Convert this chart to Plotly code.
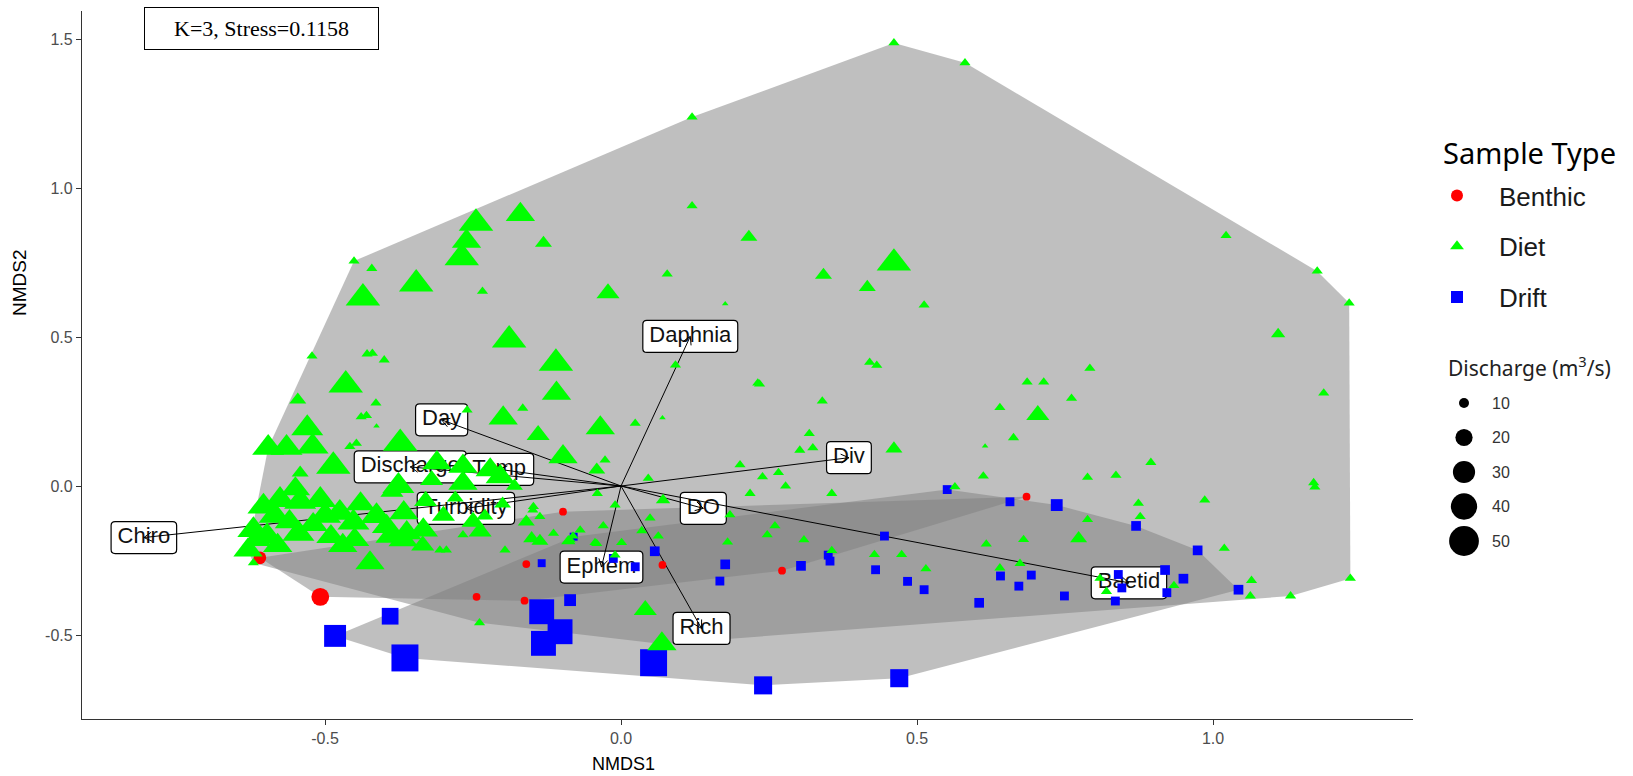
import math
import plotly.graph_objects as go

# ---------------- data ----------------
BENTHIC_X = [-0.610, -0.508, -0.098, -0.160, -0.244, -0.163, 0.070, 0.272, 0.685]
BENTHIC_Y = [-0.241, -0.372, -0.086, -0.262, -0.372, -0.385, -0.265, -0.284, -0.036]
BENTHIC_Q = [13, 21, 8, 8, 8, 8, 8, 8, 8]

DRIFT_X = [-0.483, -0.390, -0.365, -0.134, -0.103, -0.131, -0.086, 0.055, 0.240, 0.470,
           0.551, 0.657, 0.736, 0.870, 0.974, 1.043, 0.445, 0.430, 0.484, 0.512,
           0.605, 0.641, 0.672, 0.693, 0.749, 0.835, 0.840, 0.846, 0.919, 0.922,
           0.950, 0.353, 0.350, 0.304, 0.176, 0.167, 0.057, -0.013, 0.024, -0.134,
           -0.080]
DRIFT_Y = [-0.503, -0.437, -0.577, -0.422, -0.489, -0.528, -0.383, -0.593, -0.669, -0.645,
           -0.012, -0.053, -0.064, -0.134, -0.216, -0.348, -0.168, -0.281, -0.320, -0.348,
           -0.392, -0.302, -0.336, -0.299, -0.369, -0.386, -0.297, -0.342, -0.282, -0.358,
           -0.311, -0.252, -0.232, -0.268, -0.263, -0.319, -0.219, -0.243, -0.271, -0.259,
           -0.170]
DRIFT_Q = [36, 23, 52, 45, 45, 45, 14, 52, 26, 26,
           10, 10, 14, 11, 11, 11, 10, 10, 10, 10,
           11, 10, 10, 10, 10, 10, 10, 10, 11, 10,
           11, 10, 10, 11, 11, 10, 11, 10, 10, 9,
           9]

DIET_X = [0.461, 0.581, 0.120, -0.451, -0.421, -0.436, -0.346, -0.245, -0.261, -0.269,
          -0.170, -0.131, -0.234, -0.189, -0.110, -0.109, -0.022, 0.120, 0.216, 0.342,
          0.461, 0.416, 0.512, 0.078, 0.176, 0.231, 0.420, 0.432, 0.092, 1.022,
          1.176, 1.230, 1.110, 0.686, 0.714, 0.792, 1.187, 0.761, 0.704, 0.663,
          0.640, 0.615, 0.461, 0.895, 0.788, 0.836, 1.170, 1.172, 0.986, 0.874,
          0.877, 0.788, 1.019, 0.680, 0.773, 1.065, 1.063, 1.131, 1.232, 0.934,
          0.809, 0.820, 0.617, 0.474, 0.428, 0.515, 0.640, 0.674, 0.612, 0.564,
          0.356, 0.356, 0.309, 0.247, 0.260, 0.180, 0.184, 0.218, 0.278, 0.266,
          0.239, 0.201, 0.302, 0.324, 0.318, 0.340, 0.234, 0.070, 0.024, -0.035,
          -0.027, -0.041, 0.046, -0.040, -0.010, 0.071, 0.049, 0.035, 0.063, 0.001,
          -0.030, -0.044, -0.069, -0.081, -0.089, -0.010, 0.041, 0.069, -0.239, -0.424,
          -0.098, -0.140, -0.166, -0.199, -0.260, -0.465, -0.522, -0.429, -0.420, -0.400,
          -0.414, -0.439, -0.430, -0.413, -0.546, -0.530, -0.521, -0.596, -0.565, -0.542,
          -0.486, -0.458, -0.447, -0.373, -0.311, -0.267, -0.221, -0.204, -0.267, -0.376,
          -0.387, -0.576, -0.542, -0.508, -0.604, -0.621, -0.598, -0.630, -0.621, -0.475,
          -0.452, -0.413, -0.367, -0.362, -0.334, -0.238, -0.267, -0.396, -0.390, -0.368,
          -0.306, -0.295, -0.196, -0.151, -0.137, -0.114, -0.086, -0.148, -0.137, -0.041,
          -0.149, -0.560, -0.520, -0.490, -0.580, -0.545, -0.450, -0.330, -0.300, -0.280,
          -0.230, -0.200, -0.180, -0.160, -0.320, -0.585, -0.500, -0.440, -0.335, -0.615,
          -0.470, -0.250, -0.550]
DIET_Y = [1.487, 1.420, 1.238, 0.755, 0.730, 0.631, 0.678, 0.882, 0.821, 0.766,
          0.911, 0.815, 0.653, 0.490, 0.412, 0.311, 0.647, 0.940, 0.835, 0.708,
          0.748, 0.667, 0.607, 0.711, 0.611, 0.345, 0.415, 0.405, 0.406, 0.840,
          0.721, 0.614, 0.510, 0.349, 0.349, 0.395, 0.312, 0.294, 0.238, 0.162,
          0.263, 0.134, 0.125, 0.079, 0.029, 0.036, 0.011, -0.004, -0.047, -0.058,
          -0.103, -0.113, -0.209, -0.180, -0.176, -0.317, -0.369, -0.369, -0.310, -0.334,
          -0.310, -0.354, -0.195, -0.230, -0.230, -0.278, -0.275, -0.260, 0.033, -0.003,
          -0.025, -0.217, -0.181, -0.164, -0.134, -0.188, -0.097, -0.025, 0.000, 0.045,
          0.031, 0.071, 0.120, 0.128, 0.176, 0.285, 0.342, 0.229, 0.210, 0.195,
          0.087, 0.054, 0.026, -0.025, -0.064, -0.047, -0.108, -0.150, -0.168, -0.190,
          -0.134, -0.190, -0.148, -0.168, -0.185, -0.232, -0.416, -0.530, -0.459, -0.258,
          0.098, 0.171, 0.261, 0.228, 0.255, 0.339, 0.436, 0.443, 0.445, 0.423,
          0.278, 0.232, 0.236, 0.201, 0.289, 0.194, 0.132, 0.128, 0.128, 0.044,
          0.066, 0.132, 0.143, 0.143, 0.078, 0.066, 0.054, 0.031, 0.009, 0.000,
          -0.019, -0.047, -0.053, -0.047, -0.069, -0.148, -0.168, -0.215, -0.258, -0.090,
          -0.123, -0.101, -0.090, -0.157, -0.148, -0.153, -0.164, -0.136, -0.169, -0.181,
          -0.215, -0.215, -0.215, -0.176, -0.185, -0.159, -0.181, -0.069, -0.103, -0.193,
          -0.081, -0.120, -0.130, -0.170, -0.200, -0.160, -0.180, -0.050, -0.100, -0.040,
          -0.100, -0.060, 0.000, -0.120, 0.020, -0.100, -0.100, -0.060, -0.200, -0.180,
          -0.200, -0.120, -0.010]
DIET_Q = [8, 8, 8, 8, 8, 34, 34, 34, 26, 34,
          26, 12, 8, 34, 34, 26, 18, 8, 12, 12,
          34, 12, 8, 8, 6, 8, 8, 8, 8, 8,
          8, 8, 10, 8, 8, 8, 8, 8, 18, 8,
          8, 6, 12, 8, 8, 8, 8, 8, 8, 8,
          8, 8, 8, 8, 12, 8, 8, 8, 8, 8,
          8, 8, 8, 8, 8, 8, 8, 8, 8, 8,
          8, 8, 8, 8, 8, 8, 8, 8, 8, 8,
          8, 8, 8, 8, 8, 8, 8, 6, 8, 26,
          8, 12, 8, 8, 8, 10, 8, 8, 8, 8,
          8, 8, 8, 8, 10, 8, 18, 26, 8, 26,
          26, 18, 8, 26, 8, 34, 8, 8, 8, 8,
          8, 8, 8, 6, 12, 30, 30, 30, 30, 12,
          34, 8, 8, 34, 26, 26, 26, 26, 26, 30,
          18, 30, 30, 30, 30, 30, 30, 26, 8, 30,
          30, 30, 26, 26, 26, 18, 8, 26, 26, 26,
          8, 8, 8, 12, 12, 8, 8, 8, 8, 8,
          8, 26, 26, 26, 26, 30, 26, 18, 18, 12,
          12, 12, 12, 12, 18, 30, 30, 26, 18, 26,
          26, 18, 26]

VEC_NAMES = ["Daphnia", "Day", "Discharge", "Temp", "Div", "DO", "Turbidity",
             "Chiro", "Ephem", "Rich", "Baetid"]
VEC_X = [0.117, -0.303, -0.356, -0.206, 0.385, 0.139, -0.262, -0.806, -0.033, 0.136, 0.858]
VEC_Y = [0.502, 0.222, 0.064, 0.056, 0.095, -0.075, -0.075, -0.173, -0.272, -0.478, -0.325]

X_TICKS = [-0.5, 0.0, 0.5, 1.0]
X_TICK_TEXT = ["-0.5", "0.0", "0.5", "1.0"]
Y_TICKS = [-0.5, 0.0, 0.5, 1.0, 1.5]
Y_TICK_TEXT = ["-0.5", "0.0", "0.5", "1.0", "1.5"]
X_RANGE = [-0.9105, 1.3378]
Y_RANGE = [-0.7819, 1.594]

DISCHARGE_LEGEND = [10, 20, 30, 40, 50]
SAMPLE_TYPES = ["Benthic", "Diet", "Drift"]
STRESS_TEXT = "K=3, Stress=0.1158"

# ---------------- layout geometry ----------------
W, H = 1633, 776
M_L, M_R, M_T, M_B = 82, 5, 11, 57
PLOT_W = W - M_L - M_R
PLOT_H = H - M_T - M_B
MAIN_RIGHT_PX = 1413
X_DOM = [0, (MAIN_RIGHT_PX - M_L) / PLOT_W]
KX = (MAIN_RIGHT_PX - M_L) / (X_RANGE[1] - X_RANGE[0])   # px per data unit
KY = PLOT_H / (Y_RANGE[1] - Y_RANGE[0])

FONT = "Liberation Sans, Arial, sans-serif"
ALT_FONT = "Noto Sans, Open Sans, sans-serif"


def paper(px, py):
    return (px - M_L) / PLOT_W, (H - M_B - py) / PLOT_H


def size_px(q):
    return math.sqrt(max(100 + 19.7 * (q - 10), 16))


def hull(xs, ys):
    pts = sorted(set(zip(xs, ys)))

    def cross(o, a, b):
        return (a[0] - o[0]) * (b[1] - o[1]) - (a[1] - o[1]) * (b[0] - o[0])

    lower, upper = [], []
    for p in pts:
        while len(lower) >= 2 and cross(lower[-2], lower[-1], p) <= 0:
            lower.pop()
        lower.append(p)
    for p in reversed(pts):
        while len(upper) >= 2 and cross(upper[-2], upper[-1], p) <= 0:
            upper.pop()
        upper.append(p)
    return lower[:-1] + upper[:-1]


def hull_path(xs, ys):
    h = hull(xs, ys)
    return "M " + " L ".join(f"{x},{y}" for x, y in h) + " Z"


CHAR_W = {"a": .556, "b": .556, "c": .5, "d": .556, "e": .556, "g": .556, "h": .556,
          "i": .222, "m": .833, "n": .556, "o": .556, "p": .556, "r": .333, "s": .5,
          "t": .278, "u": .556, "v": .5, "y": .5, "B": .667, "C": .722, "D": .722,
          "E": .667, "O": .778, "R": .722, "T": .611}
LABEL_FS = 22


def rrect(cx, cy, wpx, hpx, rpx=4):
    hw, hh = wpx / 2 / KX, hpx / 2 / KY
    rx, ry = rpx / KX, rpx / KY
    x0, x1, y0, y1 = cx - hw, cx + hw, cy - hh, cy + hh
    return (f"M {x0+rx},{y0} L {x1-rx},{y0} Q {x1},{y0} {x1},{y0+ry} "
            f"L {x1},{y1-ry} Q {x1},{y1} {x1-rx},{y1} L {x0+rx},{y1} "
            f"Q {x0},{y1} {x0},{y1-ry} L {x0},{y0+ry} Q {x0},{y0} {x0+rx},{y0} Z")


fig = go.Figure()
shapes = []

# hulls
HULL_FILL = "rgba(127,127,127,0.5)"
for xs, ys in [(DIET_X, DIET_Y), (DRIFT_X, DRIFT_Y), (BENTHIC_X, BENTHIC_Y)]:
    shapes.append(dict(type="path", path=hull_path(xs, ys), xref="x", yref="y",
                       fillcolor=HULL_FILL, line=dict(width=0), layer="below"))

# label boxes
for name, vx, vy in zip(VEC_NAMES, VEC_X, VEC_Y):
    wpx = sum(CHAR_W.get(c, .556) for c in name) * LABEL_FS + 13
    shapes.append(dict(type="path", path=rrect(vx, vy, wpx, 32), xref="x", yref="y",
                       fillcolor="white", line=dict(color="black", width=1.2), layer="below"))

# label text
fig.add_trace(go.Scatter(x=VEC_X, y=VEC_Y, mode="text", text=VEC_NAMES,
                         textposition="middle center",
                         textfont=dict(family=FONT, size=LABEL_FS, color="#111"),
                         hoverinfo="skip", showlegend=False))

# arrows
ax, ay = [], []
HEAD, ANG = 9, math.radians(30)
for vx, vy in zip(VEC_X, VEC_Y):
    ax += [0, vx, None]
    ay += [0, vy, None]
    dx, dy = vx * KX, vy * KY
    L = math.hypot(dx, dy)
    bx, by = -dx / L, -dy / L
    for s in (1, -1):
        rx = bx * math.cos(s * ANG) - by * math.sin(s * ANG)
        ry = bx * math.sin(s * ANG) + by * math.cos(s * ANG)
        ax += [vx, vx + rx * HEAD / KX, None]
        ay += [vy, vy + ry * HEAD / KY, None]
fig.add_trace(go.Scatter(x=ax, y=ay, mode="lines", line=dict(color="black", width=1),
                         hoverinfo="skip", showlegend=False))

# points
fig.add_trace(go.Scatter(x=DRIFT_X, y=DRIFT_Y, mode="markers", name="Drift",
                         legendgroup="c", legendrank=3,
                         marker=dict(symbol="square", color="#0000FF", opacity=1,
                                     size=[0.886 * size_px(q) for q in DRIFT_Q], line=dict(width=0))))
fig.add_trace(go.Scatter(x=BENTHIC_X, y=BENTHIC_Y, mode="markers", name="Benthic",
                         legendgroup="a", legendrank=1,
                         marker=dict(symbol="circle", color="#FF0000", opacity=1,
                                     size=[size_px(q) for q in BENTHIC_Q], line=dict(width=0))))
fig.add_trace(go.Scatter(x=DIET_X, y=DIET_Y, mode="markers", name="Diet",
                         legendgroup="b", legendrank=2,
                         marker=dict(symbol="triangle-up", color="#00FF00", opacity=1,
                                     size=[1.25 * size_px(q) for q in DIET_Q], line=dict(width=0))))

# discharge size legend on auxiliary axes (figure-pixel units)
LEG_X0 = 1440
leg_y = [403 + i * 34.5 for i in range(len(DISCHARGE_LEGEND))]
fig.add_trace(go.Scatter(x=[1464] * len(DISCHARGE_LEGEND), y=leg_y, mode="markers",
                         xaxis="x2", yaxis="y2", showlegend=False, hoverinfo="skip",
                         marker=dict(color="black", opacity=1, line=dict(width=0),
                                     size=[size_px(q) for q in DISCHARGE_LEGEND])))

annotations = []
for q, yy in zip(DISCHARGE_LEGEND, leg_y):
    px_, py_ = paper(1490, yy)
    annotations.append(dict(x=px_, y=py_, xref="paper", yref="paper", text=str(q),
                            showarrow=False, xanchor="left", yanchor="middle",
                            font=dict(family=FONT, size=16, color="#333")))
sx, sy = paper(261.5, 28.5)
annotations.append(dict(x=sx, y=sy, xref="paper", yref="paper", text=STRESS_TEXT,
                        xanchor="center", yanchor="middle",
                        showarrow=False, font=dict(family="Liberation Serif, Times New Roman, serif",
                                                   size=22, color="black"),
                        bordercolor="black", borderwidth=1, borderpad=0, bgcolor="white",
                        width=233, height=41))
tx, ty = paper(623, 764)
annotations.append(dict(x=tx, y=ty, xref="paper", yref="paper", text="NMDS1", showarrow=False,
                        xanchor="center", yanchor="middle",
                        font=dict(family=FONT, size=18, color="black")))
tx, ty = paper(19, 283)
annotations.append(dict(x=tx, y=ty, xref="paper", yref="paper", text="NMDS2", showarrow=False,
                        xanchor="center", yanchor="middle",
                        textangle=-90, font=dict(family=FONT, size=19, color="black")))
tx, ty = paper(1441, 152)
annotations.append(dict(x=tx, y=ty, xref="paper", yref="paper", text="Sample Type",
                        showarrow=False, xanchor="left", yanchor="middle",
                        font=dict(family=ALT_FONT, size=29, color="black")))
tx, ty = paper(1446, 367)
annotations.append(dict(x=tx, y=ty, xref="paper", yref="paper", text="Discharge (m<sup>3</sup>/s)",
                        showarrow=False, xanchor="left", yanchor="middle",
                        font=dict(family=ALT_FONT, size=21, color="#222")))

lx, ly = paper(1415, 172)
axis_common = dict(showline=True, linecolor="#333", linewidth=1.3, ticks="outside", ticklen=5,
                   tickcolor="#333", tickwidth=1.2, showgrid=False, zeroline=False,
                   automargin=False,
                   tickfont=dict(family=FONT, size=16, color="#4d4d4d"))
fig.update_layout(
    width=W, height=H, margin=dict(l=M_L, r=M_R, t=M_T, b=M_B, autoexpand=False),
    paper_bgcolor="white", plot_bgcolor="white",
    xaxis=dict(domain=X_DOM, range=X_RANGE, tickvals=X_TICKS, ticktext=X_TICK_TEXT, **axis_common),
    yaxis=dict(domain=[0, 1], range=Y_RANGE, tickvals=Y_TICKS, ticktext=Y_TICK_TEXT, **axis_common),
    xaxis2=dict(domain=[(LEG_X0 - M_L) / PLOT_W, 1], range=[LEG_X0, W - M_R], visible=False,
                anchor="y2", fixedrange=True),
    yaxis2=dict(domain=[0, 1], range=[H - M_B, M_T], visible=False, anchor="x2", fixedrange=True),
    shapes=shapes, annotations=annotations,
    showlegend=True,
    legend=dict(x=lx, y=ly, xanchor="left", yanchor="top", traceorder="grouped",
                tracegroupgap=14, itemsizing="constant", itemwidth=74,
                font=dict(family=FONT, size=26, color="#1a1a1a"), bgcolor="rgba(0,0,0,0)"),
)

fig.write_html("out.html", config={"displayModeBar": False},
               post_script="document.body.style.margin='0px';")
